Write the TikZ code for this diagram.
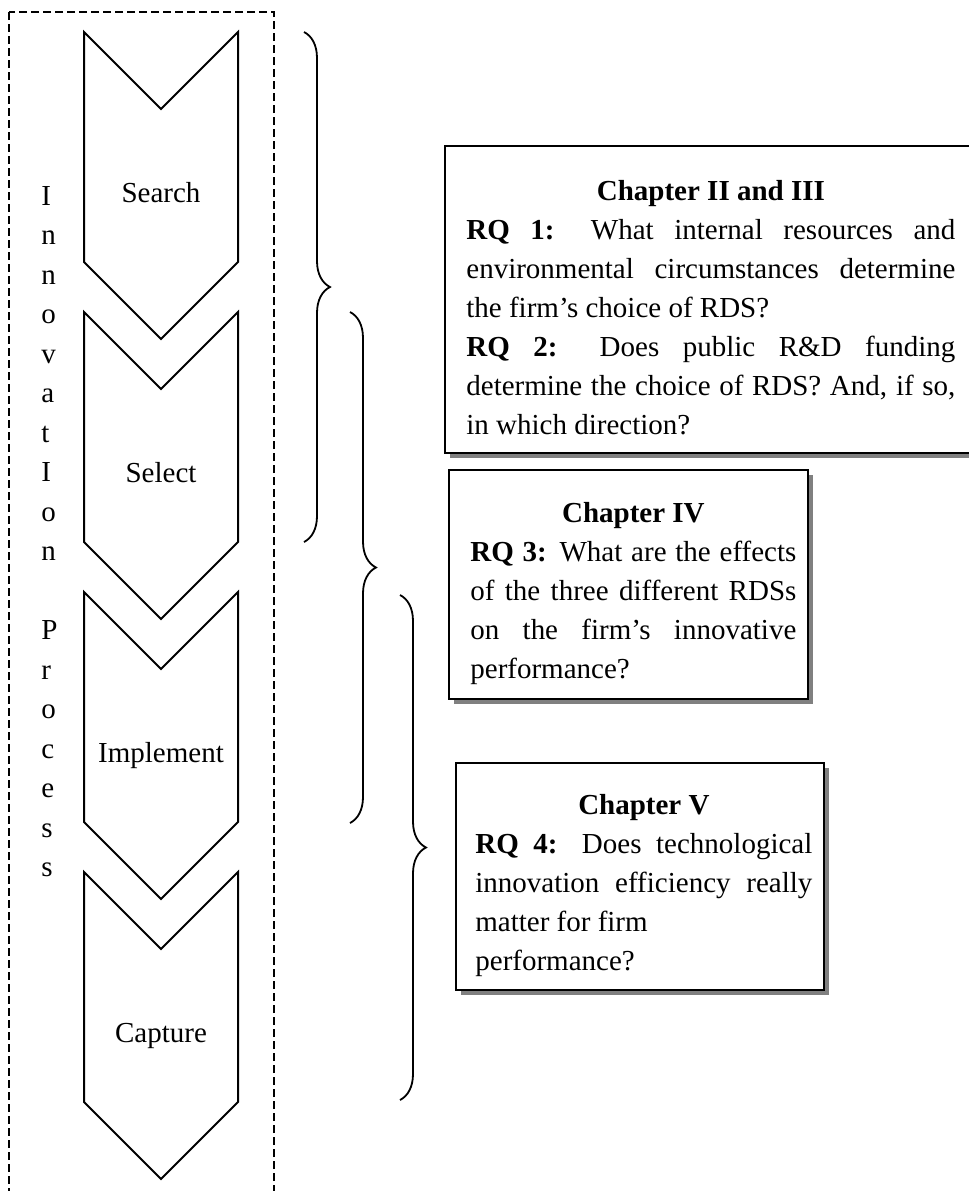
\documentclass[tikz,border=0pt]{standalone}
\usepackage{fontspec}
\setmainfont{Liberation Serif}[Ligatures={TeX,NoCommon}]
\usetikzlibrary{decorations.pathreplacing,shadows,positioning}
\tolerance=10000
\hbadness=10000
\hyphenpenalty=10000

\tikzset{
  txt/.style={font=\fontsize{14.5}{19.5}\selectfont},
  frame/.style={draw,line width=0.9pt,dash pattern=on 4pt off 2pt},
  chevron/.style={draw,line width=1pt,line join=miter},
  steplabel/.style={txt,anchor=base},
  letter/.style={txt,anchor=base west,inner sep=0pt},
  curly/.style={decorate,decoration={brace,amplitude=13pt},line width=0.9pt},
  chapbox/.style={draw,line width=1pt,fill=white,anchor=north west,inner sep=0pt,
    drop shadow={shadow xshift=2.5pt,shadow yshift=-2.5pt,fill=black!50,opacity=1}},
  rqtext/.style={txt,align=justify,inner sep=0pt,anchor=north west}
}

\begin{document}
\begin{tikzpicture}[x=0.5pt,y=-0.5pt]
  \useasboundingbox (0,0) rectangle (969,1191);
  \clip (0,0) rectangle (969,1191);
  % dashed frame round the process, runs off the bottom edge
  \draw[frame] (9,12) rectangle (274,1220);
  % the four stages
  \foreach \name/\lab [count=\i from 0] in {search/Search,select/Select,implement/Implement,capture/Capture}{
    \pgfmathsetmacro{\ytop}{32+280*\i}
    \draw[chevron] (84,\ytop) -- ++(77,77) -- ++(77,-77) -- ++(0,230) -- ++(-77,77) -- ++(-77,-77) -- cycle;
    \node[steplabel] (\name) at (161,\ytop+170) {\lab};
  }
  % vertical caption, one letter a line
  \foreach \ch [count=\i from 0] in {I,n,n,o,v,a,t,I,o,n,,P,r,o,c,e,s,s}
    \node[letter] (let\i) at (41,205+39.5*\i) {\ch};
  % braces grouping two stages each
  \coordinate (braceA-top) at (304,32);
  \coordinate (braceA-bot) at (304,542);
  \coordinate (braceB-top) at (350,312);
  \coordinate (braceB-bot) at (350,823);
  \coordinate (braceC-top) at (400,595);
  \coordinate (braceC-bot) at (400,1100);
  \draw[curly] (braceA-top) -- (braceA-bot);
  \draw[curly] (braceB-top) -- (braceB-bot);
  \draw[curly] (braceC-top) -- (braceC-bot);
  % chapter boxes
  \node[chapbox,minimum width=270pt,minimum height=153.5pt] (box1) at (444,145) {};
  \node[rqtext,text width=244.5pt,below right=17.5pt and 11pt of box1.north west] (rq12)
    {{\centering\bfseries Chapter II and III\par}
     \textbf{RQ 1:} What internal resources and \linebreak
     environmental circumstances determine \linebreak
     the firm’s choice of RDS?\\
     \textbf{RQ 2:} Does public R\&D funding \linebreak
     determine the choice of RDS? And, if so, \linebreak
     in which direction?};
  \node[chapbox,minimum width=179.5pt,minimum height=114.5pt] (box2) at (448,469) {};
  \node[rqtext,text width=163pt,below right=16.5pt and 11pt of box2.north west] (rq3)
    {{\centering\bfseries Chapter IV\par}
     \textbf{RQ 3:} What are the effects \linebreak
     of the three different RDSs \linebreak
     on the firm’s innovative \linebreak
     performance?};
  \node[chapbox,minimum width=184pt,minimum height=113.5pt] (box3) at (455,762) {};
  \node[rqtext,text width=168.5pt,below right=16pt and 10pt of box3.north west] (rq4)
    {{\centering\bfseries Chapter V\par}
     \textbf{RQ 4:} Does technological \linebreak
     innovation efficiency really \linebreak
     matter for firm\\
     performance?};
\end{tikzpicture}
\end{document}
